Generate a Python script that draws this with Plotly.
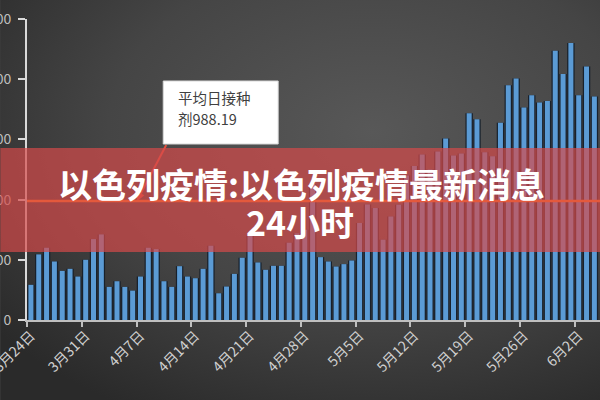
import base64
import pandas as pd
import plotly.graph_objects as go

# ---------------- data ----------------
days = [f"{d.month}月{d.day}日" for d in pd.date_range("2021-03-24", periods=73)]
doses = [292, 545, 600, 486, 408, 425, 361, 500, 672, 711,
         275, 322, 275, 244, 361, 600, 589, 322, 275, 447,
         361, 347, 425, 617, 222, 278, 383, 517, 700, 478,
         417, 450, 450, 642, 720, 750, 1130, 522, 486, 444,
         464, 494, 806, 960, 930, 667, 860, 958, 1200, 1280,
         1375, 1250, 1400, 1508, 1367, 1383, 1717, 1667, 1394, 1361,
         1639, 1950, 2006, 1764, 1867, 1806, 1819, 2236, 2044, 2300,
         1867, 2106, 1856]
avg_dose = 988.19
y_ticks = [0, 500, 1000, 1500, 2000, 2500]
title_line1 = "以色列疫情:以色列疫情最新消息"
title_line2 = "24小时"
note_line1 = "平均日接种"
note_line2 = "剂988.19"

idx = list(range(len(doses)))
tick_idx = idx[::7]

# ---------------- layout geometry (pixels) ----------------
W, H = 600, 400
L, T, B, R = 26.7, 19, 80, 0
PW = W - L - R
PH = H - T - B


def px(x):
    return (x - L) / PW


def py(y):
    return (H - B - y) / PH


FONT = "Noto Sans CJK SC"

# background gradient (svg data uri)
svg = ('<svg xmlns="http://www.w3.org/2000/svg" width="600" height="400">'
       '<defs><radialGradient id="g" cx="0.62" cy="0.33" r="0.8">'
       '<stop offset="0" stop-color="#585858"/>'
       '<stop offset="0.55" stop-color="#454545"/>'
       '<stop offset="1" stop-color="#2a2a2a"/>'
       '</radialGradient></defs>'
       '<rect width="600" height="400" fill="url(#g)"/></svg>')
bg_uri = "data:image/svg+xml;base64," + base64.b64encode(svg.encode()).decode()

fig = go.Figure()
fig.add_trace(go.Bar(x=idx, y=doses, width=0.95,
                     marker=dict(color="#18212c", line_width=0),
                     hoverinfo="skip", showlegend=False))
fig.add_trace(go.Bar(x=idx, y=doses, width=0.64,
                     marker=dict(color="#5b9bd5", line_width=0),
                     showlegend=False))

# arrow (under band)
tip = (136.5, 201.5)
start = (166.0, 145.0)
dx, dy = tip[0] - start[0], tip[1] - start[1]
ln = (dx * dx + dy * dy) ** 0.5
ux, uy = dx / ln, dy / ln
bx, by = tip[0] - 9 * ux, tip[1] - 9 * uy
p1 = (bx + 4 * uy, by - 4 * ux)
p2 = (bx - 4 * uy, by + 4 * ux)

shapes = [
    dict(type="line", xref="paper", yref="paper",
         x0=px(start[0]), y0=py(start[1]), x1=px(bx), y1=py(by),
         line=dict(color="#e2503e", width=2), layer="above"),
    dict(type="path", xref="paper", yref="paper",
         path=f"M {px(tip[0])},{py(tip[1])} L {px(p1[0])},{py(p1[1])} L {px(p2[0])},{py(p2[1])} Z",
         fillcolor="#e2503e", line=dict(width=0), layer="above"),
    # translucent band
    dict(type="rect", xref="paper", yref="paper",
         x0=px(0), x1=px(600), y0=py(252), y1=py(148),
         fillcolor="rgba(214,74,74,0.69)", line=dict(width=0), layer="above"),
    # average line
    dict(type="line", xref="paper", yref="y", x0=0, x1=1, y0=avg_dose, y1=avg_dose,
         line=dict(color="#e4593c", width=2.5), layer="above"),
    # note box
    dict(type="rect", xref="paper", yref="paper",
         x0=px(163), x1=px(278), y0=py(144), y1=py(81),
         fillcolor="white", line=dict(color="#d8d8d8", width=1), layer="above"),
]

annotations = [
    dict(xref="paper", yref="paper", x=px(301), y=py(183), text=f"<b>{title_line1}</b>",
         showarrow=False, xanchor="center", yanchor="middle",
         font=dict(family=FONT, size=34, color="white")),
    dict(xref="paper", yref="paper", x=px(300), y=py(221), text=f"<b>{title_line2}</b>",
         showarrow=False, xanchor="center", yanchor="middle",
         font=dict(family=FONT, size=34, color="white")),
    dict(xref="paper", yref="paper", x=px(176), y=py(97), text=note_line1,
         showarrow=False, xanchor="left", yanchor="middle",
         font=dict(family=FONT, size=14.5, color="#404040")),
    dict(xref="paper", yref="paper", x=px(176), y=py(118), text=note_line2,
         showarrow=False, xanchor="left", yanchor="middle",
         font=dict(family=FONT, size=14.5, color="#404040")),
]

fig.update_layout(
    width=W, height=H,
    margin=dict(l=L, r=R, t=T, b=B, pad=0),
    paper_bgcolor="#3d3d3d", plot_bgcolor="rgba(0,0,0,0)",
    barmode="overlay",
    shapes=shapes, annotations=annotations,
    images=[dict(source=bg_uri, xref="paper", yref="paper",
                 x=px(0), y=py(0), sizex=W / PW, sizey=H / PH,
                 xanchor="left", yanchor="top", sizing="stretch", layer="below")],
    font=dict(family=FONT),
    xaxis=dict(range=[-0.5, 72.72], tickmode="array", tickvals=tick_idx,
               ticktext=[days[i] for i in tick_idx], tickangle=-45, ticks="",
               showline=True, linecolor="#bfbfbf", linewidth=2,
               tickfont=dict(family=FONT, size=14, color="#d0d0d0"),
               ticklabeloverflow="allow",
               showgrid=False, zeroline=False, automargin=False,
               minor=dict(tickmode="array", tickvals=[i - 0.5 for i in tick_idx],
                          ticks="outside", ticklen=5, tickwidth=1.5,
                          tickcolor="#bfbfbf", showgrid=False)),
    yaxis=dict(range=[0, 2500], tickmode="array", tickvals=y_ticks,
               ticks="outside", ticklen=7, tickwidth=1.5, tickcolor="#d9d9d9",
               showline=True, linecolor="#d9d9d9", linewidth=2,
               tickfont=dict(family=FONT, size=14, color="#bfbfbf"),
               ticklabeloverflow="allow", ticklabelstandoff=4,
               showgrid=False, zeroline=False, automargin=False),
)

fig.write_html("out.html", config={"displayModeBar": False},
               post_script="document.body.style.margin='0';document.body.style.padding='0';")
